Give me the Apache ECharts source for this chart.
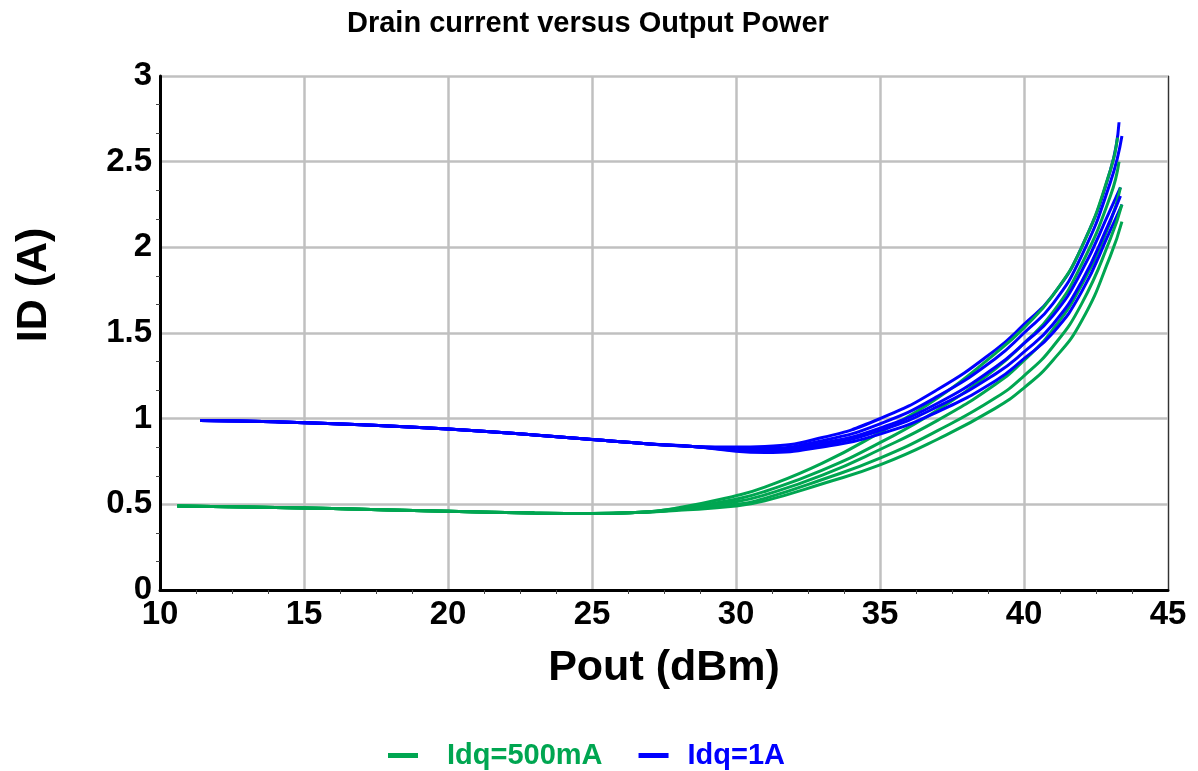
<!DOCTYPE html>
<html>
<head>
<meta charset="utf-8">
<title>Drain current versus Output Power</title>
<script src="https://cdn.jsdelivr.net/npm/echarts@6/dist/echarts.min.js"></script>
<style>
  * { margin: 0; padding: 0; }
  html, body { background: #fff; }
  #chart { width: 1198px; height: 771px; }
</style>
</head>
<body>
<div id="chart"></div>
<script>
// Pout (dBm) vs ID (A), several sweeps per bias point
const greenHead = [[10.6, 0.49], [13, 0.485], [16, 0.475], [20, 0.46], [23, 0.449], [25, 0.446], [26.5, 0.452]];
const greenTails = [
  [[28, 0.48], [30, 0.55], [31, 0.6], [33, 0.74], [35, 0.92], [37, 1.12], [39, 1.38], [40, 1.53], [41, 1.72], [42, 2.0], [43, 2.45], [43.25, 2.64]],
  [[28, 0.475], [30, 0.53], [31, 0.575], [33, 0.7], [35, 0.86], [37, 1.05], [39, 1.29], [40, 1.44], [41, 1.62], [42, 1.9], [43, 2.3], [43.3, 2.5]],
  [[28, 0.47], [30, 0.515], [31, 0.555], [33, 0.67], [35, 0.82], [37, 0.99], [39, 1.2], [40, 1.34], [41, 1.52], [42, 1.78], [43, 2.15], [43.35, 2.35]],
  [[28, 0.465], [30, 0.49], [31, 0.52], [33, 0.62], [35, 0.73], [37, 0.88], [39, 1.06], [40, 1.18], [41, 1.34], [42, 1.57], [43, 1.95], [43.4, 2.15]],
  [[28, 0.468], [30, 0.5], [31, 0.535], [33, 0.645], [35, 0.77], [37, 0.93], [39, 1.12], [40, 1.25], [41, 1.42], [42, 1.67], [43, 2.05], [43.4, 2.25]]
];

const blueHead = [[11.4, 0.99], [14, 0.982], [17, 0.965], [20, 0.94], [23, 0.905], [25, 0.878], [27, 0.852], [28.5, 0.838]];
const blueTails = [
  [[30, 0.835], [31, 0.838], [33, 0.89], [35, 1.0], [37, 1.17], [39, 1.4], [40, 1.55], [41, 1.72], [42, 2.0], [43, 2.45], [43.3, 2.73]],
  [[30, 0.828], [31, 0.828], [33, 0.872], [35, 0.97], [37, 1.13], [39, 1.35], [40, 1.5], [41, 1.67], [42, 1.95], [43, 2.38], [43.4, 2.65]],
  [[30, 0.82], [31, 0.817], [33, 0.858], [35, 0.945], [37, 1.09], [39, 1.3], [40, 1.44], [41, 1.6], [42, 1.86], [43, 2.22], [43.35, 2.35]],
  [[30, 0.81], [31, 0.803], [33, 0.835], [35, 0.91], [37, 1.04], [39, 1.22], [40, 1.35], [41, 1.5], [42, 1.74], [43, 2.1], [43.4, 2.25]],
  [[30, 0.815], [31, 0.81], [33, 0.847], [35, 0.93], [37, 1.07], [39, 1.26], [40, 1.39], [41, 1.55], [42, 1.8], [43, 2.16], [43.35, 2.3]]
];

const xTicks = { min: 10, max: 45, interval: 5 };
const yTicks = { min: 0, max: 3, interval: 0.5 };

const GREEN = "#00a651";
const BLUE = "#0000ff";
const FONT = "'Liberation Sans', Arial, sans-serif";

function curve(name, color, data) {
  return {
    name: name,
    type: "line",
    data: data,
    smooth: true,
    symbol: "none",
    silent: true,
    lineStyle: { color: color, width: 3 },
    itemStyle: { color: color }
  };
}

const series = [];
for (let i = 0; i < 5; i++) {
  series.push(curve("Idq=1A", BLUE, blueHead.concat(blueTails[i])));
  series.push(curve("Idq=500mA", GREEN, greenHead.concat(greenTails[i])));
}

const chart = echarts.init(document.getElementById("chart"));
chart.setOption({
  animation: false,
  backgroundColor: "#fff",
  title: {
    text: "Drain current versus Output Power",
    left: 342,
    top: 4,
    textStyle: { fontFamily: FONT, fontSize: 29, fontWeight: "bold", color: "#000" }
  },
  legend: {
    left: 383,
    top: 736,
    itemGap: 36,
    itemWidth: 30,
    itemHeight: 5,
    icon: "rect",
    textStyle: { fontFamily: FONT, fontSize: 29, fontWeight: "bold" },
    data: [
      { name: "Idq=500mA", textStyle: { color: GREEN, padding: [0, 0, 0, 24] } },
      { name: "Idq=1A", textStyle: { color: BLUE, padding: [0, 0, 0, 14] } }
    ]
  },
  grid: { left: 160, right: 30, top: 76, bottom: 181 },
  xAxis: {
    type: "value",
    min: xTicks.min,
    max: xTicks.max,
    interval: xTicks.interval,
    name: "Pout (dBm)",
    nameLocation: "middle",
    nameGap: 57,
    nameTextStyle: { fontFamily: FONT, fontSize: 43, fontWeight: "bold", color: "#000" },
    axisLine: { lineStyle: { color: "#000", width: 3 } },
    axisTick: { show: false },
    minorTick: { show: true, splitNumber: 4, length: 4, lineStyle: { color: "#444", width: 1 } },
    axisLabel: { fontFamily: FONT, fontSize: 33, fontWeight: "bold", color: "#000", margin: 8 },
    splitLine: { show: true, lineStyle: { color: "#c0c0c0", width: 2.5 } }
  },
  yAxis: [
    {
      type: "value",
      min: yTicks.min,
      max: yTicks.max,
      interval: yTicks.interval,
      name: "ID (A)",
      nameLocation: "middle",
      nameGap: 104,
      nameTextStyle: { fontFamily: FONT, fontSize: 43, fontWeight: "bold", color: "#000", padding: [0, 0, 0, 96] },
      axisLine: { show: true, lineStyle: { color: "#000", width: 3 } },
      axisTick: { show: false },
      minorTick: { show: true, splitNumber: 3, length: 4, lineStyle: { color: "#444", width: 1 } },
      axisLabel: { fontFamily: FONT, fontSize: 33, fontWeight: "bold", color: "#000", margin: 8 },
      splitLine: { show: true, lineStyle: { color: "#c0c0c0", width: 2.5 } }
    },
    {
      type: "value",
      position: "right",
      min: yTicks.min,
      max: yTicks.max,
      axisLine: { show: true, lineStyle: { color: "#333", width: 1 } },
      axisTick: { show: false },
      axisLabel: { show: false },
      splitLine: { show: false }
    }
  ],
  series: series
});
</script>
</body>
</html>
